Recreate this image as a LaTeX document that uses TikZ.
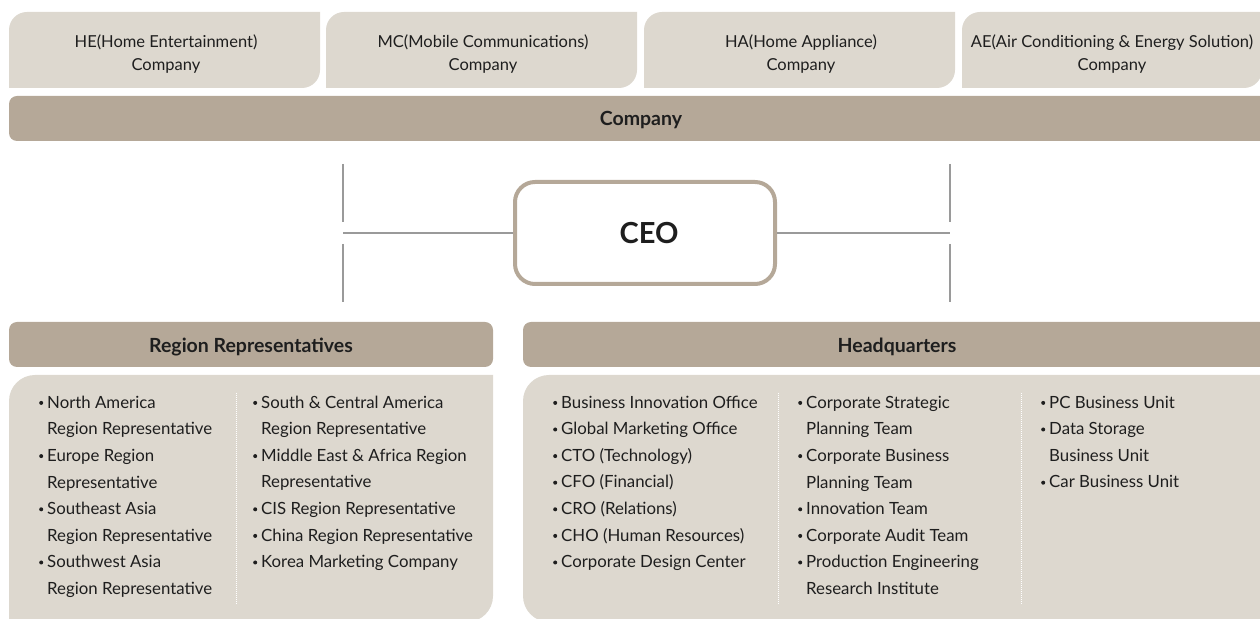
\documentclass[tikz,border=0pt]{standalone}
\usepackage{fontspec}
\setmainfont{Lato}
\definecolor{tanD}{HTML}{B5A898}
\definecolor{tanL}{HTML}{DDD8CF}
\definecolor{txt}{HTML}{1E1E1E}
\definecolor{lineg}{HTML}{9A9A9A}
\newcommand\bul{\makebox[9pt][l]{\hspace{1pt}\raisebox{3.3pt}{\tikz\fill[txt] (0,0) circle (2pt);}}}
\newcommand\ind{\hspace*{9pt}}
\newcommand\fst{\rule{0pt}{15pt}}
\tikzset{
  toptext/.style={anchor=north, inner sep=0pt, align=center, text=txt, font=\fontsize{16.5}{23}\selectfont},
  coltext/.style={anchor=north west, inner sep=0pt, align=left, text=txt, font=\fontsize{16.8}{26.6}\selectfont},
  headtext/.style={anchor=base, inner sep=0pt, text=txt, font=\bfseries\fontsize{19.5}{22}\selectfont},
  conn/.style={draw=lineg, line width=1.3pt},
  sep/.style={draw=white, line width=1pt, dash pattern=on 1pt off 1pt},
}
\begin{document}
\begin{tikzpicture}[x=1pt,y=1pt]
\useasboundingbox (0,0) rectangle (1260,618);
\clip (0,0) rectangle (1260,618);
% top company boxes
\foreach \L/\R in {9/320, 326/637, 644/955, 962/1262}{
  \fill[tanL] (\L,530) -- (\L,588) arc[start angle=180,end angle=90,radius=18] -- (\R,606) -- (\R,548) arc[start angle=0,end angle=-90,radius=18] -- cycle;
}
\node[toptext] (he) at (166,586) {\fst HE(Home Entertainment)\\Company};
\node[toptext] (mc) at (483,586) {\fst MC(Mobile Communications)\\Company};
\node[toptext] (ha) at (801,586) {\fst HA(Home Appliance)\\Company};
\node[toptext] (ae) at (1112,586) {\fst AE(Air Conditioning \& Energy Solution)\\Company};
% company bar
\fill[tanD, rounded corners=8] (9,477) rectangle (1280,522);
\node[headtext] (comp) at (641,492) {Company};
% CEO
\node[draw=tanD, line width=4pt, rounded corners=20, minimum width=260, minimum height=102, inner sep=0pt, text=txt, font=\bfseries\fontsize{29}{32}\selectfont] (ceo) at (645,385) {\hspace*{8pt}CEO};
\coordinate (lh) at (343,385);
\coordinate (rh) at (950,385);
\coordinate (l1) at (343,454);
\coordinate (l2) at (343,396);
\coordinate (l3) at (343,374);
\coordinate (l4) at (343,316);
\coordinate (r1) at (950,454);
\coordinate (r2) at (950,396);
\coordinate (r3) at (950,374);
\coordinate (r4) at (950,316);
\draw[conn] (ceo.west) -- (lh);
\draw[conn] (ceo.east) -- (rh);
\draw[conn] (l1) -- (l2);
\draw[conn] (l3) -- (l4);
\draw[conn] (r1) -- (r2);
\draw[conn] (r3) -- (r4);
% section bars
\fill[tanD, rounded corners=8] (9,251) rectangle (493,296);
\fill[tanD, rounded corners=8] (523,251) rectangle (1280,296);
\node[headtext] (reg) at (251,265) {Region Representatives};
\node[headtext] (hq) at (897,265) {Headquarters};
% bodies
\fill[tanL] (9,-4) -- (9,217) arc[start angle=180,end angle=90,radius=26] -- (493,243) -- (493,22) arc[start angle=0,end angle=-90,radius=26] -- cycle;
\fill[tanL] (1280,243) -- (549,243) arc[start angle=90,end angle=180,radius=26] -- (523,22) arc[start angle=180,end angle=270,radius=26] -- (1280,-4) -- cycle;
% separators
\coordinate (s1a) at (236,225); \coordinate (s1b) at (236,14);
\coordinate (s2a) at (778,225); \coordinate (s2b) at (778,14);
\coordinate (s3a) at (1021,225); \coordinate (s3b) at (1021,14);
\draw[sep] (s1a) -- (s1b);
\draw[sep] (s2a) -- (s2b);
\draw[sep] (s3a) -- (s3b);
% columns
\node[coltext] (rc1) at (38,225) {\fst\bul North America\\\ind Region Representative\\\bul Europe Region\\\ind Representative\\\bul Southeast Asia\\\ind Region Representative\\\bul Southwest Asia\\\ind Region Representative};
\node[coltext] (rc2) at (252,225) {\fst\bul South \& Central America\\\ind Region Representative\\\bul Middle East \& Africa Region\\\ind Representative\\\bul CIS Region Representative\\\bul China Region Representative\\\bul Korea Marketing Company};
\node[coltext] (hc1) at (552,225) {\fst\bul Business Innovation Office\\\bul Global Marketing Office\\\bul CTO (Technology)\\\bul CFO (Financial)\\\bul CRO (Relations)\\\bul CHO (Human Resources)\\\bul Corporate Design Center};
\node[coltext] (hc2) at (797,225) {\fst\bul Corporate Strategic\\\ind Planning Team\\\bul Corporate Business\\\ind Planning Team\\\bul Innovation Team\\\bul Corporate Audit Team\\\bul Production Engineering\\\ind Research Institute};
\node[coltext] (hc3) at (1040,225) {\fst\bul PC Business Unit\\\bul Data Storage\\\ind Business Unit\\\bul Car Business Unit};
\end{tikzpicture}
\end{document}
